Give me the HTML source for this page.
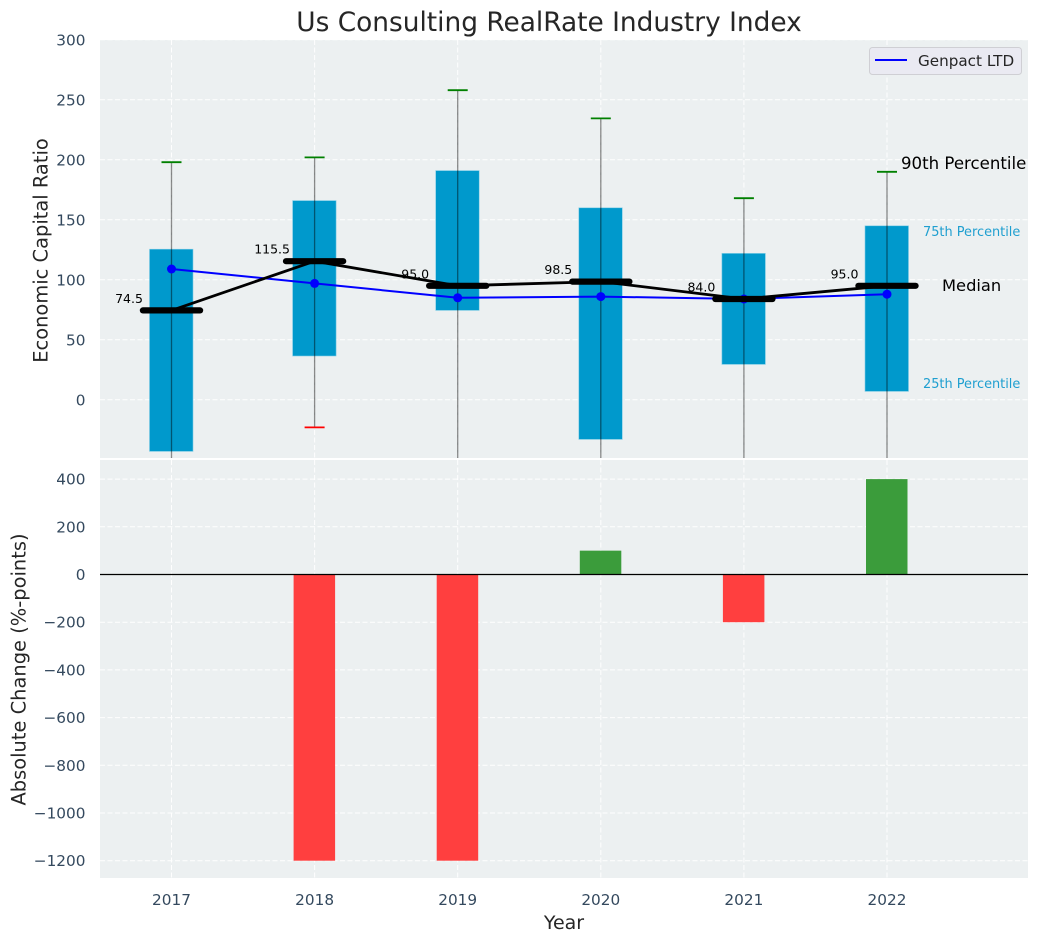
<!DOCTYPE html>
<html lang="en">
<head>
<meta charset="utf-8">
<title>Us Consulting RealRate Industry Index</title>
<style>
html,body{margin:0;padding:0;background:#fff;width:1039px;height:942px;overflow:hidden}
svg{display:block;font-family:"DejaVu Sans","Liberation Sans",sans-serif}
</style>
</head>
<body>
<svg id="chart" xmlns="http://www.w3.org/2000/svg" width="1039" height="942" viewBox="0 0 1039 942">
  <defs>
    <clipPath id="top-clip"><rect x="100" y="40" width="928" height="418"/></clipPath>
    <clipPath id="bottom-clip"><rect x="100" y="460" width="928" height="418"/></clipPath>
  </defs>
  <rect x="100" y="40" width="928" height="418" fill="#ecf0f1"/>
  <rect x="100" y="460" width="928" height="418" fill="#ecf0f1"/>
  <g id="grid"></g>
  <g id="bars" clip-path="url(#bottom-clip)"></g>
  <g id="boxes" clip-path="url(#top-clip)"></g>
  <g id="lines" clip-path="url(#top-clip)"></g>
  <g id="ticks"></g>
  <g id="value-labels"></g>
  <text x="549" y="31" text-anchor="middle" font-size="26.4" fill="#262626">Us Consulting RealRate Industry Index</text>
  <text transform="translate(47.5,250.5) rotate(-90)" text-anchor="middle" font-size="19.45" fill="#262626">Economic Capital Ratio</text>
  <text transform="translate(25.5,669.5) rotate(-90)" text-anchor="middle" font-size="19.45" fill="#262626">Absolute Change (%-points)</text>
  <text x="564" y="929" text-anchor="middle" font-size="19" fill="#262626">Year</text>
  <text x="901" y="169" font-size="16.6" fill="#000">90th Percentile</text>
  <text x="923" y="236" font-size="12.9" fill="#1f9fd0">75th Percentile</text>
  <text x="942" y="291" font-size="16.3" fill="#000">Median</text>
  <text x="923" y="388" font-size="12.9" fill="#1f9fd0">25th Percentile</text>
  <g>
    <rect x="869.5" y="47.5" width="152" height="27" rx="3" fill="#eaeaf2" stroke="#cfcfd4"/>
    <line x1="875" x2="907" y1="60" y2="60" stroke="#0000ff" stroke-width="2"/>
    <text x="918" y="66" font-size="15.2" fill="#262626">Genpact LTD</text>
  </g>
</svg>
<script>
const years = [2017, 2018, 2019, 2020, 2021, 2022];
const p90 = [198, 202, 258, 234.5, 168, 190];
const p75 = [125.5, 166, 191, 160, 122, 145];
const medians = [74.5, 115.5, 95, 98.5, 84, 95];
const p25 = [-43, 36.5, 74.5, -33, 29.5, 7];
const p10 = [-60, -23, -70, -80, -55, -75];
const genpact = [109, 97, 85, 86, 84, 88];
const changeYears = [2018, 2019, 2020, 2021, 2022];
const changes = [-1200, -1200, 100, -200, 400];
const topTicks = [0, 50, 100, 150, 200, 250, 300];
const bottomTicks = [-1200, -1000, -800, -600, -400, -200, 0, 200, 400];

const NS = 'http://www.w3.org/2000/svg';
function x(year) { return 171.5 + (year - 2017) * 143.1; }
function yTop(v) { return 399.8 - v * 1.2; }
function yBottom(v) { return 574.5 - v * 0.2385; }
function make(parent, tag, attrs, text) {
  const el = document.createElementNS(NS, tag);
  for (const k in attrs) el.setAttribute(k, attrs[k]);
  if (text !== undefined) el.textContent = text;
  document.getElementById(parent).appendChild(el);
  return el;
}
const GRID = { stroke: '#ffffff', 'stroke-width': 1, 'stroke-dasharray': '5 2.5', opacity: 0.95 };
const TICK = { 'font-size': 15.3, fill: '#34495e' };

topTicks.forEach(function (t) {
  const g = make('grid', 'line', Object.assign({ x1: 100, x2: 1028, y1: yTop(t), y2: yTop(t) }, GRID));
  
  
  const l = make('ticks', 'text', Object.assign({ x: 85.5, y: yTop(t) + 5.5, 'text-anchor': 'end' }, TICK), String(t));
  
  
});
bottomTicks.forEach(function (t) {
  const g = make('grid', 'line', Object.assign({ x1: 100, x2: 1028, y1: yBottom(t), y2: yBottom(t) }, GRID));
  
  
  const l = make('ticks', 'text', Object.assign({ x: 85.5, y: yBottom(t) + 5.5, 'text-anchor': 'end' }, TICK), String(t).replace('-', '\u2212'));
  
  
});
years.forEach(function (yr) {
  const g1 = make('grid', 'line', Object.assign({ x1: x(yr), x2: x(yr), y1: 40, y2: 458 }, GRID));
  
  
  const g2 = make('grid', 'line', Object.assign({ x1: x(yr), x2: x(yr), y1: 460, y2: 878 }, GRID));
  
  
  const l = make('ticks', 'text', Object.assign({ x: x(yr), y: 905, 'text-anchor': 'middle' }, TICK), String(yr));
  
  
});

changeYears.forEach(function (yr, i) {
  const v = changes[i];
  const b = make('bars', 'rect', {
    x: x(yr) - 21, width: 41.5,
    y: Math.min(yBottom(v), yBottom(0)),
    height: Math.abs(yBottom(v) - yBottom(0)),
    fill: v < 0 ? '#ff3f3f' : '#3b9c3b'
  });
  
  
});
const zero = make('bars', 'line', { x1: 100, x2: 1028, y1: yBottom(0), y2: yBottom(0), stroke: '#000', 'stroke-width': 1.2 });



years.forEach(function (yr, i) {
  const box = make('boxes', 'rect', {
    x: x(yr) - 22, width: 43.5,
    y: yTop(p75[i]), height: yTop(p25[i]) - yTop(p75[i]),
    fill: '#0099cc', stroke: '#7fcce5', 'stroke-width': 0.6
  });
  
  
  const w = make('boxes', 'line', { x1: x(yr), x2: x(yr), y1: yTop(p90[i]), y2: yTop(p10[i]), stroke: '#000', 'stroke-opacity': 0.45, 'stroke-width': 1.3 });
  
  
  const c1 = make('boxes', 'line', { x1: x(yr) - 10, x2: x(yr) + 10, y1: yTop(p90[i]), y2: yTop(p90[i]), stroke: '#008000', 'stroke-width': 1.8 });
  
  
  const c2 = make('boxes', 'line', { x1: x(yr) - 10, x2: x(yr) + 10, y1: yTop(p10[i]), y2: yTop(p10[i]), stroke: '#ff0000', 'stroke-width': 1.8 });
  
  
});

const genpactLine = make('lines', 'polyline', {
  points: years.map(function (yr, i) { return x(yr) + ',' + yTop(genpact[i]); }).join(' '),
  fill: 'none', stroke: '#0000ff', 'stroke-width': 2
});


years.forEach(function (yr, i) {
  const p = make('lines', 'circle', { cx: x(yr), cy: yTop(genpact[i]), r: 4.5, fill: '#0000ff' });
  
  
});
const medianLine = make('lines', 'polyline', {
  points: years.map(function (yr, i) { return x(yr) + ',' + yTop(medians[i]); }).join(' '),
  fill: 'none', stroke: '#000', 'stroke-width': 2.8
});


years.forEach(function (yr, i) {
  const m = make('lines', 'line', { x1: x(yr) - 28.6, x2: x(yr) + 28.6, y1: yTop(medians[i]), y2: yTop(medians[i]), stroke: '#000', 'stroke-width': 6.2, 'stroke-linecap': 'round' });
  
  
  const t = make('value-labels', 'text', { x: x(yr) - 42.5, y: yTop(medians[i]) - 7.5, 'text-anchor': 'middle', 'font-size': 12.5, fill: '#000' }, medians[i].toFixed(1));
  
  
});
</script>
</body>
</html>
